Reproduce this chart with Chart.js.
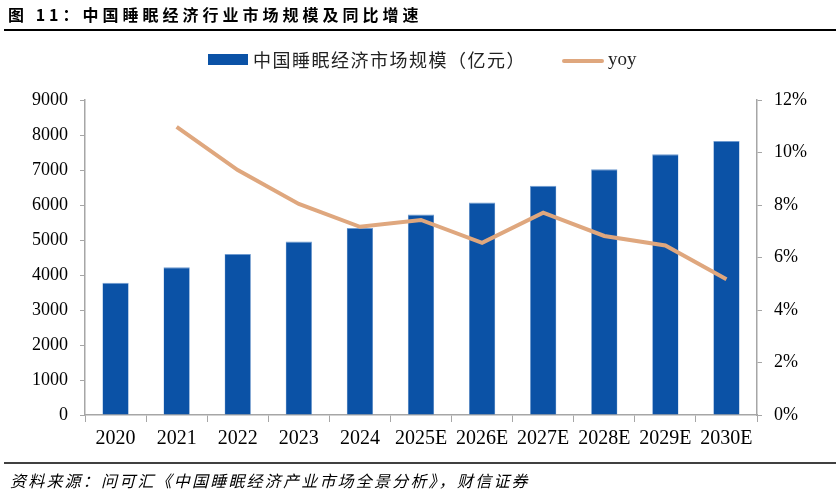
<!DOCTYPE html>
<html>
<head>
<meta charset="utf-8">
<script src="https://cdn.jsdelivr.net/npm/chart.js@4.4.0/dist/chart.umd.min.js"></script>
<style>
html,body{margin:0;padding:0;background:#fff;}
#wrap{position:relative;width:840px;height:496px;}
canvas{display:block;}
</style>
</head>
<body>
<div id="wrap"><canvas id="c" width="840" height="496"></canvas></div>
<script>
const titleText = "图 11：中国睡眠经济行业市场规模及同比增速";
const sourceText = "资料来源：问可汇《中国睡眠经济产业市场全景分析》，财信证券";
const categories = ["2020","2021","2022","2023","2024","2025E","2026E","2027E","2028E","2029E","2030E"];
const marketSize = [3780, 4220, 4600, 4960, 5340, 5730, 6070, 6550, 7020, 7450, 7830];
const yoy = [null, 10.98, 9.33, 8.04, 7.17, 7.43, 6.56, 7.71, 6.82, 6.46, 5.17];
const barLabel = "中国睡眠经济市场规模（亿元）";
const lineLabel = "yoy";

const BAR_COLOR = "#0B52A6";
const LINE_COLOR = "#DFA77E";
const AXIS_COLOR = "#A6A6A6";
const SERIF = "'Liberation Serif','Times New Roman',serif";
const CJK = "'Noto Sans CJK SC','Noto Sans CJK JP',sans-serif";

const decor = {
  id: 'decor',
  afterDraw(chart) {
    const ctx = chart.ctx;
    ctx.save();
    // title
    ctx.fillStyle = "#000";
    ctx.textBaseline = "middle";
    ctx.textAlign = "left";
    ctx.font = "bold 16px " + CJK;
    ctx.letterSpacing = "4px";
    ctx.fillText(titleText, 8, 15);
    ctx.letterSpacing = "0px";
    ctx.strokeStyle = "#000";
    ctx.lineWidth = 2;
    ctx.beginPath(); ctx.moveTo(4, 30); ctx.lineTo(836, 30); ctx.stroke();
    // bottom rule
    ctx.lineWidth = 1.5;
    ctx.beginPath(); ctx.moveTo(4, 463); ctx.lineTo(836, 463); ctx.stroke();
    // source
    ctx.font = "italic 16px " + CJK;
    ctx.letterSpacing = "2.2px";
    ctx.fillText(sourceText, 10, 481);
    ctx.letterSpacing = "0px";
    // legend
    const bar = chart.data.datasets.find(d => d.type === 'bar');
    const line = chart.data.datasets.find(d => d.type === 'line');
    ctx.font = "18px " + CJK;
    ctx.fillStyle = bar.backgroundColor;
    ctx.fillRect(208, 54, 40, 11);
    ctx.fillStyle = "#222";
    ctx.letterSpacing = "1.5px";
    ctx.fillText(bar.label, 253, 60);
    ctx.letterSpacing = "0px";
    ctx.strokeStyle = line.borderColor;
    ctx.lineWidth = 4;
    ctx.lineCap = "round";
    ctx.beginPath(); ctx.moveTo(564, 61); ctx.lineTo(602, 61); ctx.stroke();
    ctx.font = "19px " + SERIF;
    ctx.fillText(line.label, 608, 60);
    ctx.restore();
  }
};

new Chart(document.getElementById('c'), {
  data: {
    labels: categories,
    datasets: [
      {
        type: 'line',
        label: lineLabel,
        data: yoy,
        yAxisID: 'y1',
        borderColor: LINE_COLOR,
        borderWidth: 4,
        pointRadius: 0,
        tension: 0,
        spanGaps: false,
        order: 0
      },
      {
        type: 'bar',
        label: barLabel,
        data: marketSize,
        yAxisID: 'y',
        backgroundColor: BAR_COLOR,
        borderColor: "#6F9BD0",
        borderWidth: {top: 1, left: 0.5, right: 0.5, bottom: 0},
        categoryPercentage: 1,
        barPercentage: 0.43,
        order: 1
      }
    ]
  },
  options: {
    responsive: false,
    animation: false,
    layout: { padding: { top: 100, left: 0, right: 0, bottom: 0 } },
    plugins: { legend: { display: false }, tooltip: { enabled: false } },
    scales: {
      x: {
        offset: true,
        grid: { display: true, drawOnChartArea: false, offset: true, tickLength: 7, color: AXIS_COLOR, lineWidth: 1 },
        border: { display: true, color: AXIS_COLOR, width: 1.5 },
        ticks: { color: "#000", font: { family: SERIF, size: 20 }, padding: 5, maxRotation: 0, autoSkip: false },
        afterFit(s) { s.height = 81; }
      },
      y: {
        position: 'left',
        min: 0, max: 9000,
        grid: { drawOnChartArea: false, tickLength: 5, color: AXIS_COLOR },
        border: { display: true, color: AXIS_COLOR, width: 1.5 },
        ticks: { stepSize: 1000, color: "#000", font: { family: SERIF, size: 18 }, padding: 12,
                 callback: v => String(v) },
        afterFit(s) { s.width = 85; }
      },
      y1: {
        position: 'right',
        min: 0, max: 12,
        grid: { drawOnChartArea: false, tickLength: 5, color: AXIS_COLOR },
        border: { display: true, color: AXIS_COLOR, width: 1.5 },
        ticks: { stepSize: 2, color: "#000", font: { family: SERIF, size: 18 }, padding: 12,
                 callback: v => v + '%' },
        afterFit(s) { s.width = 83; }
      }
    }
  },
  plugins: [decor]
});
</script>
</body>
</html>
